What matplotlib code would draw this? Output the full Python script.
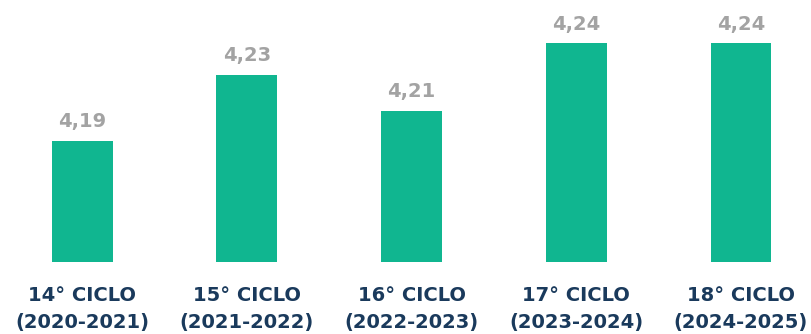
import matplotlib.pyplot as plt

# ciclos and mean values
ciclos = ["14° CICLO\n(2020-2021)", "15° CICLO\n(2021-2022)", "16° CICLO\n(2022-2023)",
          "17° CICLO\n(2023-2024)", "18° CICLO\n(2024-2025)"]
valores = [4.188, 4.226, 4.205, 4.244, 4.244]

bar_color = "#10b690"
label_color = "#1a3a5c"
value_color = "#a3a3a3"

fig = plt.figure(figsize=(8.11, 3.34), dpi=100)
ax = fig.add_axes([0, 0.2156, 1, 0.7844])

x = list(range(len(ciclos)))
ax.bar(x, valores, width=0.37, color=bar_color)

for xi, v in zip(x, valores):
    ax.annotate("{:.2f}".format(v).replace(".", ","), (xi, v), xytext=(0, 7),
                textcoords="offset points", ha="center", va="bottom",
                fontsize=14, fontweight="bold", color=value_color)

ax.set_xlim(-0.498, 4.425)
ax.set_ylim(4.118, 4.269)
ax.set_xticks(x)
ax.set_xticklabels(ciclos, fontsize=14, fontweight="bold", color=label_color,
                   linespacing=1.55)
ax.tick_params(axis="x", length=0, pad=17)
ax.set_yticks([])
for s in ax.spines.values():
    s.set_visible(False)

fig.savefig("out.png", dpi=100)
